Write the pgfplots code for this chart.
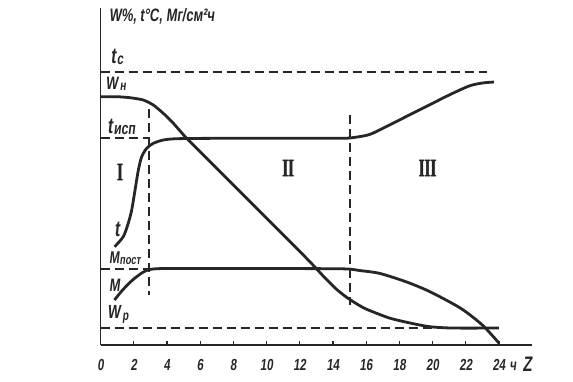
\documentclass[border=0pt]{standalone}
\usepackage{pgfplots}
\pgfplotsset{compat=1.18}
\usepackage{graphicx}
\usepackage{fontspec}
\setmainfont{Liberation Sans}
\newfontfamily\hand{Liberation Sans Bold}[FakeStretch=0.72,FakeSlant=0.12]
\newfontfamily\rom{Liberation Serif Bold}[FakeStretch=0.6,FakeBold=2]
\definecolor{ink}{HTML}{262626}
\begin{document}
\begin{tikzpicture}
\begin{axis}[
  scale only axis, width=431.6pt, height=337pt,
  xmin=0, xmax=26, ymin=0, ymax=337,
  axis x line*=bottom, axis y line*=left,
  axis line style={line width=1.8pt, color=ink},
  xtick={0,2,...,24}, ytick=\empty,
  tick align=inside, major tick length=4pt,
  tick style={line width=1.2pt, color=ink},
  /pgf/number format/assume math mode=true,
  xticklabel style={font=\hand\fontsize{16}{16}\selectfont, text=ink, anchor=base, yshift=-25pt},
  clip=false,
]
% bounding box of the whole picture
\path (axis cs:-6.054,-36) rectangle (axis cs:28.46,345);
% dashed reference lines
\addplot[ink, line width=2pt, dash pattern=on 9pt off 5pt] coordinates {(0,273) (23.3,273)};
\addplot[ink, line width=2pt, dash pattern=on 9pt off 5pt] coordinates {(0,16.7) (24,16.7)};
\addplot[ink, line width=2pt, dash pattern=on 9pt off 5pt] coordinates {(0,206.7) (2.95,206.7)};
\addplot[ink, line width=2pt, dash pattern=on 9pt off 5pt] coordinates {(0,76) (2.95,76)};
\addplot[ink, line width=2pt, dash pattern=on 9pt off 5pt] coordinates {(2.95,236) (2.95,50)};
\addplot[ink, line width=2pt, dash pattern=on 9pt off 5pt] coordinates {(15.05,230) (15.05,40)};
% W curve
\addplot[ink, line width=2.8pt, smooth, tension=0.4] coordinates {
 (0,248.3) (1.0,248.3) (1.78,247.3) (2.58,245) (3.18,240) (3.78,231.7) (4.39,221.7)
 (5.19,206.7) (6.4,186.7) (7.3,171.7) (9,143.5) (11,110.3) (12,93.7) (12.8,80)
 (13.5,67.5) (14.2,56) (14.8,48) (15.4,41.5) (16.0,36) (17.4,27) (18.8,21.5) (19.85,18.3) (21.2,17) (24,17)};
% t curve
\addplot[ink, line width=2.8pt, smooth, tension=0.45] coordinates {
 (0.85,98.3) (1.37,108.3) (1.67,121.7) (1.88,135) (2.08,155) (2.28,175) (2.48,188.3)
 (2.78,196.7) (3.18,201.7) (3.78,205) (4.59,206.3) (7,206.7) (11,206.7) (14.2,206.7)
 (15.0,207) (16.2,210.5) (17.4,220) (18.6,230) (19.8,240) (21.0,250) (22.2,259) (23.0,262) (23.7,263)};
% M curve
\addplot[ink, line width=2.8pt, smooth, tension=0.45] coordinates {
 (0.84,45) (1.33,55) (1.93,65) (2.53,72.5) (2.95,75.5) (3.73,76.5) (6,76.5) (10,76.5)
 (14.6,76.2) (15.6,74.5) (16.8,71.7) (18.4,63.3) (19.85,53.3) (21.7,36.7) (23.0,20) (24.0,2)};
% labels
\node[anchor=west, text=ink, font=\hand\fontsize{18}{18}\selectfont] at (axis cs:0.3,329) {W\%, t°C, Mг/см²ч};
\node[anchor=west, text=ink, font=\hand\fontsize{22}{22}\selectfont] at (axis cs:0.4,288) {t\kern1pt\raisebox{-1pt}{\fontsize{16}{16}\selectfont с}};
\node[anchor=west, text=ink, font=\hand\fontsize{18}{18}\selectfont] at (axis cs:0.1,261) {W\kern2pt\raisebox{-1pt}{\fontsize{14}{14}\selectfont н}};
\node[anchor=west, text=ink, font=\hand\fontsize{22}{22}\selectfont] at (axis cs:0.2,218) {t\kern1pt\raisebox{-1pt}{\fontsize{17}{17}\selectfont исп}};
\node[text=ink, font=\hand\fontsize{22}{22}\selectfont] at (axis cs:1.0,116) {t};
\node[anchor=west, text=ink, font=\hand\fontsize{17}{17}\selectfont] at (axis cs:0.3,87) {M\kern0.5pt\raisebox{-1pt}{\fontsize{13}{13}\selectfont пост}};
\node[anchor=west, text=ink, font=\hand\fontsize{18}{18}\selectfont] at (axis cs:0.3,60) {M};
\node[anchor=west, text=ink, font=\hand\fontsize{19}{19}\selectfont] at (axis cs:0.2,31) {W\kern2pt\raisebox{-2pt}{\fontsize{14}{14}\selectfont р}};
\node[text=ink, font=\rom\fontsize{25}{25}\selectfont] at (axis cs:1.17,173) {I};
\node[text=ink, font=\rom\fontsize{25}{25}\selectfont] at (axis cs:11.3,177) {II};
\node[text=ink, font=\rom\fontsize{25}{25}\selectfont] at (axis cs:19.7,177) {III};
\node[anchor=base, text=ink, font=\hand\fontsize{16}{16}\selectfont] at (axis cs:24.85,-25) {ч};
\node[anchor=base, text=ink, font=\hand\fontsize{21}{21}\selectfont] at (axis cs:25.7,-26) {Z};
\end{axis}
\end{tikzpicture}
\end{document}
